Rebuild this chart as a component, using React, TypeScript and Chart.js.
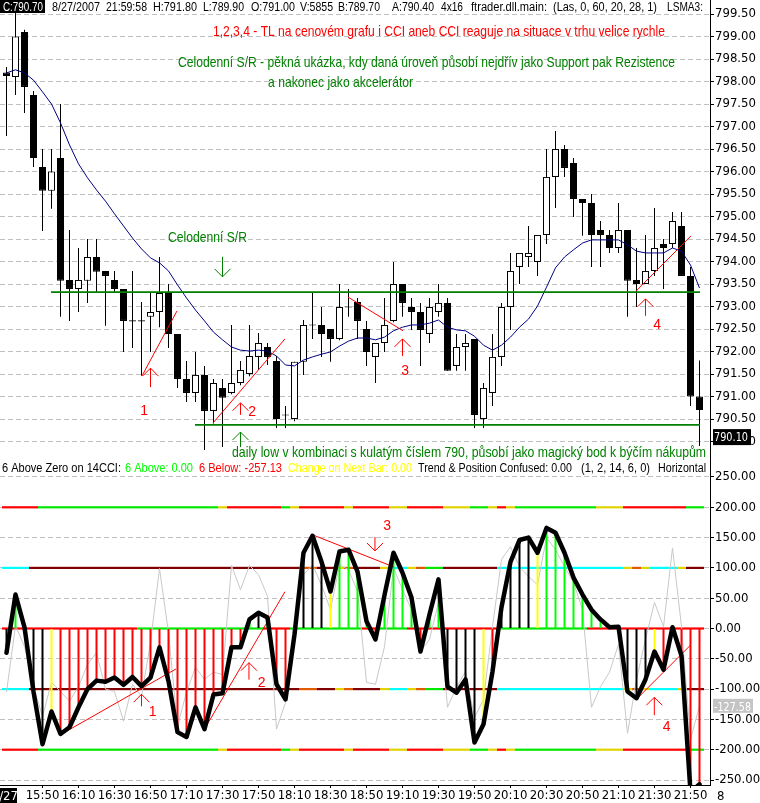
import React, { useEffect, useRef } from 'react';
import { Chart, registerables } from 'chart.js';
Chart.register(...registerables);

const AXIS_FONT = "'Liberation Sans Narrow', 'Arial Narrow', 'DejaVu Sans Condensed', Arial, sans-serif";
const TEXT_FONT = "'Liberation Sans', Arial, sans-serif";

// ---------- price data (5-minute bars, 15:30 .. 21:55) ----------
const OPEN = [798.20, 798.10, 799.10, 797.70, 796.10, 795.57, 796.30, 793.59, 793.39, 793.57,
  794.10, 793.79, 793.59, 793.39, 792.68, 792.68, 792.77, 792.88, 793.30, 792.39,
  791.39, 791.08, 791.48, 790.68, 791.19, 791.08, 791.30, 791.50, 791.88, 792.10,
  791.79, 790.59, 790.50, 791.77, 792.59, 792.59, 792.50, 792.28, 792.99, 793.10,
  792.50, 791.88, 792.19, 792.68, 793.50, 792.99, 792.88, 792.39, 792.88, 793.08,
  791.68, 792.10, 792.28, 790.50, 791.08, 791.88, 792.99, 793.88, 794.10, 793.99,
  794.59, 795.88, 796.50, 796.19, 795.39, 795.30, 794.70, 794.59, 794.30, 794.70,
  793.59, 793.50, 793.79, 794.39, 794.39, 794.79, 793.68, 791.00];
const HIGH = [798.32, 799.70, 799.15, 797.79, 796.50, 796.50, 797.50, 794.70, 794.30, 794.50,
  794.50, 793.79, 793.79, 793.39, 793.79, 793.10, 793.30, 794.10, 793.50, 792.39,
  791.79, 791.99, 791.68, 791.39, 791.39, 792.59, 791.79, 792.59, 792.41, 792.19,
  791.90, 790.79, 791.77, 792.70, 793.30, 792.99, 792.50, 793.50, 793.39, 793.19,
  792.68, 792.19, 793.19, 793.99, 793.50, 793.19, 793.08, 793.19, 793.50, 793.19,
  792.39, 792.39, 792.28, 791.30, 792.39, 793.08, 794.19, 794.19, 794.79, 794.59,
  796.50, 796.90, 796.59, 796.30, 795.39, 795.50, 794.90, 794.70, 795.30, 794.70,
  794.30, 794.59, 795.19, 794.50, 795.10, 795.10, 793.88, 791.80];
const LOW = [796.79, 797.70, 797.30, 796.10, 794.68, 795.17, 792.77, 792.68, 792.88, 793.08,
  793.30, 792.57, 793.30, 791.99, 792.08, 791.46, 791.99, 792.54, 792.08, 791.19,
  790.88, 790.88, 789.81, 790.40, 789.88, 791.05, 791.25, 791.45, 791.59, 791.70,
  790.30, 790.30, 790.45, 791.48, 792.28, 791.88, 791.77, 792.25, 792.77, 792.28,
  791.68, 791.30, 791.99, 792.65, 792.77, 792.48, 791.68, 792.19, 792.77, 791.57,
  791.57, 791.57, 790.30, 790.30, 790.79, 791.68, 792.48, 793.50, 793.88, 793.68,
  794.39, 795.19, 795.88, 794.99, 794.57, 793.88, 793.88, 794.19, 794.19, 792.77,
  792.99, 793.50, 793.68, 793.39, 794.30, 793.68, 790.79, 789.90];
const CLOSE = [798.12, 799.00, 797.88, 796.30, 795.57, 796.00, 793.57, 793.39, 793.59, 794.10,
  793.77, 793.68, 793.39, 792.68, 792.68, 792.68, 792.88, 793.30, 792.39, 791.39,
  791.08, 791.48, 790.68, 791.30, 790.97, 791.30, 791.59, 791.90, 792.19, 791.88,
  790.50, 790.59, 791.77, 792.59, 792.59, 792.39, 792.28, 792.99, 792.99, 792.68,
  791.99, 792.19, 792.59, 793.50, 793.08, 792.88, 792.48, 792.99, 793.08, 791.57,
  792.10, 792.19, 790.59, 791.19, 791.88, 792.99, 793.79, 794.19, 794.19, 794.59,
  795.88, 796.50, 796.08, 795.39, 795.30, 794.59, 794.59, 794.30, 794.70, 793.57,
  793.50, 793.79, 794.30, 794.30, 794.90, 793.68, 791.00, 790.70];
const LSMA = [798.19, 798.26, 798.19, 798.03, 797.77, 797.50, 797.08, 796.59, 796.17, 795.86,
  795.59, 795.34, 795.06, 794.79, 794.52, 794.28, 794.08, 793.97, 793.79, 793.48,
  793.19, 792.92, 792.68, 792.43, 792.26, 792.10, 792.03, 792.01, 792.03, 792.01,
  791.90, 791.70, 791.68, 791.81, 791.88, 791.94, 791.99, 792.12, 792.23, 792.30,
  792.30, 792.26, 792.32, 792.46, 792.54, 792.59, 792.59, 792.63, 792.70, 792.54,
  792.48, 792.46, 792.34, 792.14, 792.03, 792.14, 792.32, 792.54, 792.72, 793.01,
  793.43, 793.86, 794.10, 794.26, 794.41, 794.48, 794.48, 794.48, 794.48, 794.37,
  794.23, 794.19, 794.19, 794.19, 794.30, 794.23, 793.92, 793.41];

// ---------- CCI data ----------
const CCI14 = [-40, 56, 2, -104, -191, -137, -174, -163, -130, -100,
  -86, -88, -81, -93, -80, -95, -81, -31, -87, -171,
  -179, -130, -166, -109, -107, -31, -31, 15, 26, 18,
  -92, -117, -10, 125, 153, 110, 61, 127, 130, 94,
  12, -18, 55, 125, 92, 51, -38, 23, 81, -96,
  -106, -84, -188, -158, -71, 35, 110, 146, 150, 125,
  166, 158, 125, 84, 56, 31, 15, 2, 3, -104,
  -115, -84, -38, -68, 2, -45, -270, -257.13];
const CCI6 = [-105, 5, -30, -96, -145, -89, -104, -120, -96, -59,
  -40, -100, -104, -153, -92, -112, -23, 99, -7, -161,
  -105, -64, -84, -72, -76, 104, 64, 104, 89, 53,
  -166, -122, 12, 89, 105, 72, 31, 105, 97, 61,
  -89, -92, -30, 100, 64, 31, -38, -18, 43, -130,
  -97, -71, -147, -117, 3, 114, 135, 102, 86, 72,
  150, 130, 102, 76, 31, -130, -96, -72, -26, -173,
  -84, -18, 43, 3, 133, 3, -183, -127.58];

// colour state per bar (run-length): k black, g green, y yellow, r red, d dark red, c cyan, o orange
const HIST_RUNS = [['k', 1], ['g', 2], ['k', 2], ['y', 1], ['r', 21], ['g', 1], ['k', 1], ['g', 1], ['r', 3], ['k', 3], ['y', 1], ['g', 4], ['r', 1], ['g', 4], ['r', 1], ['g', 2], ['k', 4], ['y', 1], ['r', 1], ['k', 4], ['y', 1], ['g', 9], ['k', 3], ['y', 1], ['r', 5]];
const L200_RUNS = [['r', 4], ['g', 20], ['y', 1], ['r', 6], ['g', 1], ['y', 1], ['r', 5], ['y', 1], ['r', 4], ['y', 2], ['r', 4], ['y', 3], ['g', 2], ['y', 1], ['r', 1], ['y', 1], ['g', 9], ['y', 3], ['r', 7], ['g', 2]];
const L100_RUNS = [['c', 3], ['d', 30], ['o', 2], ['d', 2], ['y', 1], ['o', 1], ['d', 3], ['y', 1], ['c', 2], ['y', 1], ['o', 1], ['g', 2], ['d', 6], ['c', 14], ['y', 1], ['o', 1], ['y', 1], ['c', 3], ['y', 1], ['d', 2]];
const ZERO_RUNS = [['r', 15], ['g', 14], ['r', 3], ['g', 8], ['r', 2], ['g', 3], ['r', 10], ['g', 10], ['r', 13]];

// ---------- ticks / labels ----------
const PRICE_TICKS = [799.5, 799, 798.5, 798, 797.5, 797, 796.5, 796, 795.5, 795, 794.5, 794, 793.5, 793, 792.5, 792, 791.5, 791, 790.5, 790];
const CCI_TICKS = [250, 200, 150, 100, 50, 0, -50, -100, -150, -200, -250];
const TIME_LABELS = ['15:50', '16:10', '16:30', '16:50', '17:10', '17:30', '17:50', '18:10', '18:30', '18:50', '19:10', '19:30', '19:50', '20:10', '20:30', '20:50', '21:10', '21:30', '21:50'];
const TIME_TICK_BARS = [4, 8, 12, 16, 20, 24, 28, 32, 36, 40, 44, 48, 52, 56, 60, 64, 68, 72, 76];

// ---------- annotations (data coordinates: bar index, price / cci) ----------
const SR_LEVELS = [{ from: 4.94, to: 77.06, price: 793.32 }, { from: 20.94, to: 77.06, price: 790.37 }];
const PRICE_TL = [[[15.06, 791.46], [18.94, 792.90]], [[22.94, 790.41], [30.94, 792.28]], [[37.94, 793.21], [44.06, 792.46]], [[69.94, 793.34], [76.06, 794.57]]];
const CCI_TL = [[[5.94, -175.7], [18.83, -66.8]], [[21.94, -167.5], [30.94, 60.7]], [[34.06, 154.3], [43.06, 101.4]], [[70.02, -116.3], [75.94, -28.4]]];

const RED = '#ff0000';
const DGREEN = '#008000';

const PRICE_ARROWS = [
  { i: 16, v: 791.63, len: 19, dir: 'up', color: RED },
  { i: 26, v: 790.86, len: 12, dir: 'up', color: RED },
  { i: 44, v: 792.28, len: 17, dir: 'up', color: RED },
  { i: 71, v: 793.17, len: 17, dir: 'up', color: RED },
  { i: 24, v: 793.66, len: 20, dir: 'down', color: DGREEN },
  { i: 26, v: 790.21, len: 15, dir: 'up', color: DGREEN },
];
const PRICE_NUMBERS = [{ t: '1', i: 15.28, v: 790.68 }, { t: '2', i: 27.28, v: 790.66 }, { t: '3', i: 44.28, v: 791.57 }, { t: '4', i: 72.28, v: 792.59 }];
const CCI_ARROWS = [
  { i: 15, v: -108.6, len: 12, dir: 'up', color: RED },
  { i: 26.94, v: -56.4, len: 17, dir: 'up', color: RED },
  { i: 40.94, v: 127.9, len: 14, dir: 'down', color: RED },
  { i: 71.98, v: -113.5, len: 18, dir: 'up', color: RED },
];
const CCI_NUMBERS = [{ t: '1', i: 16.24, v: -137.3 }, { t: '2', i: 28.35, v: -89.4 }, { t: '3', i: 42.3, v: 169.6 }, { t: '4', i: 73.36, v: -162 }];

const PRICE_TEXTS = [
  { t: '1,2,3,4 - TL na cenovém grafu i CCI aneb CCI reaguje na situace v trhu velice rychle', i: 22.94, v: 799.01, w: 452, color: RED },
  { t: 'Celodenní S/R - pěkná ukázka, kdy daná úroveň působí nejdřív jako Support pak Rezistence', i: 19.06, v: 798.32, w: 497, color: DGREEN },
  { t: 'a nakonec jako akcelerátor', i: 29.06, v: 797.88, w: 145, color: DGREEN },
  { t: 'Celodenní S/R', i: 17.94, v: 794.43, w: 79, color: DGREEN },
  { t: 'daily low v kombinaci s kulatým číslem 790, působí jako magický bod k býčím nákupům', i: 25.06, v: 789.66, w: 474, color: DGREEN },
];

const HEADER_FIELDS = [
  ['8/27/2007', 52, 100], ['21:59:58', 106, 147], ['H:791.80', 153, 197], ['L:789.90', 203, 244],
  ['O:791.00', 251, 295], ['V:5855', 300, 333], ['B:789.70', 338, 380], ['A:790.40', 392, 434],
  ['4x16', 441, 463], ['ftrader.dll.main:', 471, 547], ['(Las, 0, 60, 20, 28, 1)', 553, 657], ['LSMA3:', 667, 703],
];
const STATUS_FIELDS = [
  ['6 Above Zero on 14CCI:', 2, 121, '#000000'], ['6 Above: 0.00', 125, 193, '#00ff00'],
  ['6 Below: -257.13', 199, 282, '#ff0000'], ['Change on Next Bar: 0.00', 288, 412, '#ffff00'],
  ['Trend & Position Confused: 0.00', 418, 572, '#000000'], ['(1, 2, 14, 6, 0)', 581, 650, '#000000'],
  ['Horizontal', 658, 706, '#000000'],
];

// ---------- layout ----------
const PLOT_RIGHT = 710;
const BAR_PX = 9;
const X_MIN = -6.5 / BAR_PX;
const X_MAX = X_MIN + PLOT_RIGHT / BAR_PX;
const TOP_H = 460;
const BOT_H = 343;
const P_MAX = 799.5 + 14 / 45;
const P_MIN = P_MAX - TOP_H / 45;
const CCI_MAX = 278.05;
const CCI_MIN = -258.25;

const HIST_PALETTE: any = { k: '#000000', g: '#00ff00', y: '#ffff00', r: '#ff0000' };
const LEVEL_PALETTE: any = { r: '#ff0000', g: '#00e800', y: '#e2d400', d: '#800000', c: '#00ffff', o: '#e05a00' };

function expand(runs: any[]) {
  const out: string[] = [];
  runs.forEach(([c, n]) => { for (let k = 0; k < n; k++) out.push(c); });
  return out;
}

function drawFit(ctx: any, text: string, x: number, baseline: number, width: number, size: number, color: string, family = TEXT_FONT) {
  ctx.save();
  ctx.font = `${size}px ${family}`;
  const w = ctx.measureText(text).width;
  ctx.translate(x, baseline);
  if (width && w > 0) ctx.scale(width / w, 1);
  ctx.fillStyle = color;
  ctx.textAlign = 'left';
  ctx.textBaseline = 'alphabetic';
  ctx.fillText(text, 0, 0);
  ctx.restore();
}

function drawArrow(ctx: any, x: number, tipY: number, len: number, dir: string, color: string) {
  const s = dir === 'up' ? 1 : -1;
  ctx.save();
  ctx.strokeStyle = color;
  ctx.lineWidth = 1;
  ctx.beginPath();
  ctx.moveTo(x, tipY);
  ctx.lineTo(x, tipY + s * len);
  ctx.moveTo(x - 8, tipY + s * 8);
  ctx.lineTo(x, tipY);
  ctx.lineTo(x + 8, tipY + s * 8);
  ctx.stroke();
  ctx.restore();
}

function drawCentered(ctx: any, text: string, x: number, y: number, size: number, color: string) {
  ctx.save();
  ctx.font = `${size}px ${TEXT_FONT}`;
  ctx.fillStyle = color;
  ctx.textAlign = 'center';
  ctx.textBaseline = 'middle';
  ctx.fillText(text, x, y);
  ctx.restore();
}

const topDecor = {
  id: 'topDecor',
  afterDraw(chart: any) {
    const ctx = chart.ctx;
    const xs = chart.scales.x;
    const ys = chart.scales.y;
    // header
    ctx.save();
    ctx.fillStyle = '#000';
    ctx.fillRect(0, 0, 45, 13);
    ctx.restore();
    drawFit(ctx, 'C:790.70', 3, 11, 40, 12, '#fff');
    HEADER_FIELDS.forEach(([t, l, r]: any) => drawFit(ctx, t, l, 11, r - l, 12, '#000'));
    // annotation texts
    PRICE_TEXTS.forEach((a) => drawFit(ctx, a.t, xs.getPixelForValue(a.i), ys.getPixelForValue(a.v), a.w, 14.5, a.color));
    PRICE_ARROWS.forEach((a) => drawArrow(ctx, xs.getPixelForValue(a.i), ys.getPixelForValue(a.v), a.len, a.dir, a.color));
    PRICE_NUMBERS.forEach((n) => drawCentered(ctx, n.t, xs.getPixelForValue(n.i), ys.getPixelForValue(n.v), 14, RED));
    // last value box
    const by = ys.getPixelForValue(790.12);
    ctx.save();
    ctx.fillStyle = '#000';
    ctx.fillRect(PLOT_RIGHT + 3, by - 7, 38, 16);
    ctx.restore();
    drawFit(ctx, '790.10', PLOT_RIGHT + 4, by + 5, 34, 13, '#fff', AXIS_FONT);
  },
};

const botDecor = {
  id: 'botDecor',
  afterDraw(chart: any) {
    const ctx = chart.ctx;
    const xs = chart.scales.x;
    const ys = chart.scales.y;
    STATUS_FIELDS.forEach(([t, l, r, c]: any) => drawFit(ctx, t, l, 12, r - l, 12.5, c));
    CCI_ARROWS.forEach((a) => drawArrow(ctx, xs.getPixelForValue(a.i), ys.getPixelForValue(a.v), a.len, a.dir, a.color));
    CCI_NUMBERS.forEach((n) => drawCentered(ctx, n.t, xs.getPixelForValue(n.i), ys.getPixelForValue(n.v), 14, RED));
    // last grey cci value
    const gy = ys.getPixelForValue(CCI6[CCI6.length - 1]);
    ctx.save();
    ctx.fillStyle = '#c4c4c4';
    ctx.fillRect(PLOT_RIGHT + 3, gy - 7, 40, 14);
    ctx.restore();
    drawFit(ctx, '-127.58', PLOT_RIGHT + 4, gy + 5, 37, 13, '#fff', AXIS_FONT);
    // date box
    ctx.save();
    ctx.fillStyle = '#000';
    ctx.fillRect(0, 328, 17, 15);
    ctx.beginPath();
    ctx.rect(0, 328, 17, 15);
    ctx.clip();
    ctx.font = `13px ${AXIS_FONT}`;
    ctx.fillStyle = '#fff';
    ctx.textAlign = 'right';
    ctx.fillText('8/27', 18, 340);
    ctx.restore();
    ctx.save();
    ctx.font = `13px ${AXIS_FONT}`;
    ctx.fillStyle = '#000';
    ctx.fillText('8', 717, 340);
    ctx.restore();
  },
};

function yAxis(min: number, max: number, ticks: number[]) {
  return {
    type: 'linear', position: 'right', min, max,
    afterBuildTicks: (s: any) => { s.ticks = ticks.map((v) => ({ value: v })); },
    afterFit: (s: any) => { s.width = 760 - PLOT_RIGHT; s.paddingTop = 0; s.paddingBottom = 0; },
    ticks: { callback: (v: any) => Number(v).toFixed(2), font: { family: AXIS_FONT, size: 13 }, color: '#000', padding: 1, autoSkip: false },
    grid: { color: '#c0c0c0', lineWidth: 1, drawTicks: true, tickLength: 4, tickColor: '#000', tickWidth: 1 },
    border: { display: true, color: '#000', width: 1, dash: [5, 3] },
  };
}

function lineSet(points: number[][], color: string, width: number, order: number) {
  return {
    type: 'line', data: points.map(([x, y]) => ({ x, y })), borderColor: color, borderWidth: width,
    pointRadius: 0, tension: 0, order, clip: 0,
  };
}

function topConfig(): any {
  const bodyColors = OPEN.map((o, i) => (CLOSE[i] > o + 0.02 ? '#ffffff' : '#000000'));
  const bodies = OPEN.map((o, i) => {
    const c = CLOSE[i];
    const y = Math.abs(c - o) < 0.03 ? [o - 0.012, o + 0.012] : [Math.min(o, c), Math.max(o, c)];
    return { x: i, y };
  });
  return {
    type: 'bar',
    data: {
      datasets: [
        { type: 'line', data: LSMA.map((y, i) => ({ x: i, y })), borderColor: '#000080', borderWidth: 1, pointRadius: 0, tension: 0, order: 2 },
        ...SR_LEVELS.map((l) => lineSet([[l.from, l.price], [l.to, l.price]], DGREEN, 1.6, 1)),
        ...PRICE_TL.map((tl) => lineSet(tl, RED, 1, 1)),
        { data: HIGH.map((h, i) => ({ x: i, y: [LOW[i], h] })), backgroundColor: '#000', barThickness: 1, grouped: false, inflateAmount: 0, order: 5 },
        { data: bodies, backgroundColor: bodyColors, borderColor: '#000', borderWidth: 1, borderSkipped: false, barThickness: 7, grouped: false, inflateAmount: 0, order: 4 },
      ],
    },
    options: {
      responsive: false, animation: false, devicePixelRatio: 1, maintainAspectRatio: false,
      layout: { padding: 0 },
      plugins: { legend: { display: false }, tooltip: { enabled: false }, title: { display: false } },
      scales: {
        x: { type: 'linear', min: X_MIN, max: X_MAX, display: false, offset: false, grid: { offset: false } },
        y: yAxis(P_MIN, P_MAX, PRICE_TICKS),
      },
    },
    plugins: [topDecor],
  };
}

function botConfig(): any {
  const hist = expand(HIST_RUNS).map((c) => HIST_PALETTE[c]);
  const levels = [
    { value: 200, runs: L200_RUNS }, { value: 100, runs: L100_RUNS }, { value: 0, runs: ZERO_RUNS },
    { value: -100, runs: L100_RUNS }, { value: -200, runs: L200_RUNS },
  ];
  const half = 1.1 / 0.606;
  return {
    type: 'bar',
    data: {
      datasets: [
        ...levels.map((l) => ({
          data: CCI14.map((_, i) => ({ x: i, y: [l.value - half, l.value + half] })),
          backgroundColor: expand(l.runs).map((c) => LEVEL_PALETTE[c]),
          barPercentage: 1, categoryPercentage: 1, grouped: false, inflateAmount: 0, order: 6,
        })),
        { type: 'line', data: CCI6.map((y, i) => ({ x: i, y })), borderColor: '#c8c8c8', borderWidth: 1, pointRadius: 0, tension: 0, order: 5 },
        { data: CCI14.map((y, i) => ({ x: i, y })), backgroundColor: hist, barThickness: 2, grouped: false, inflateAmount: 0, order: 3 },
        ...CCI_TL.map((tl) => lineSet(tl, RED, 1, 1)),
        { type: 'line', data: CCI14.map((y, i) => ({ x: i, y })), borderColor: '#000', borderWidth: 4.5, borderJoinStyle: 'round', borderCapStyle: 'round', pointRadius: 0, tension: 0, order: 0, clip: 0 },
      ],
    },
    options: {
      responsive: false, animation: false, devicePixelRatio: 1, maintainAspectRatio: false,
      layout: { padding: 0 },
      plugins: { legend: { display: false }, tooltip: { enabled: false }, title: { display: false } },
      scales: {
        x: {
          type: 'linear', position: 'bottom', min: X_MIN, max: X_MAX, offset: false,
          afterBuildTicks: (s: any) => { s.ticks = TIME_TICK_BARS.map((v) => ({ value: v })); },
          afterFit: (s: any) => { s.height = 18; s.paddingLeft = 0; s.paddingRight = 0; },
          ticks: { callback: (_v: any, idx: number) => TIME_LABELS[idx], font: { family: AXIS_FONT, size: 13 }, color: '#000', padding: 0, autoSkip: false, maxRotation: 0, minRotation: 0 },
          grid: { drawOnChartArea: false, drawTicks: true, tickLength: 3, tickColor: '#000', offset: false },
          border: { display: true, color: '#000', width: 1 },
        },
        y: yAxis(CCI_MIN, CCI_MAX, CCI_TICKS),
      },
    },
    plugins: [botDecor],
  };
}

export default function App() {
  const topRef = useRef<HTMLCanvasElement>(null);
  const botRef = useRef<HTMLCanvasElement>(null);
  useEffect(() => {
    const top = new Chart(topRef.current as any, topConfig());
    const bot = new Chart(botRef.current as any, botConfig());
    return () => { top.destroy(); bot.destroy(); };
  }, []);
  return (
    <div style={{ position: 'absolute', left: 0, top: 0, width: 760, height: 803, background: '#fff', overflow: 'hidden' }}>
      <canvas ref={topRef} width={760} height={TOP_H} style={{ display: 'block', width: 760, height: TOP_H }} />
      <canvas ref={botRef} width={760} height={BOT_H} style={{ display: 'block', width: 760, height: BOT_H }} />
    </div>
  );
}
